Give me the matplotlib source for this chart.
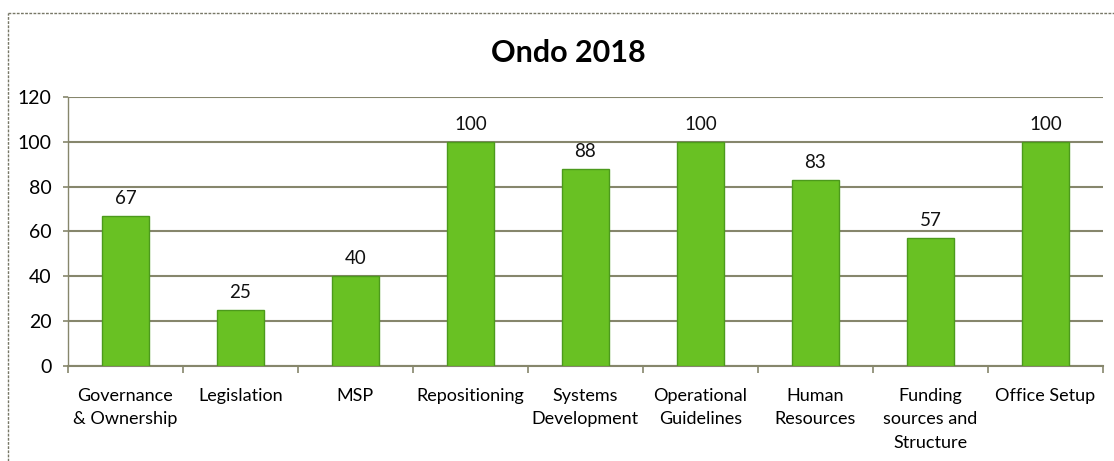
import numpy as np
import matplotlib.pyplot as plt
from matplotlib.lines import Line2D

plt.rcParams["font.family"] = ["Lato", "DejaVu Sans"]

# Scores per area
categories = ["Governance\n& Ownership", "Legislation", "MSP", "Repositioning",
              "Systems\nDevelopment", "Operational\nGuidelines", "Human\nResources",
              "Funding\nsources and\nStructure", "Office Setup"]
scores = [67, 25, 40, 100, 88, 100, 83, 57, 100]
yticks = [0, 20, 40, 60, 80, 100, 120]

grid_col = "#86866c"
bar_col = "#69c123"
edge_col = "#4c9a1c"

fig = plt.figure(figsize=(11.14, 4.61), dpi=100)
ax = fig.add_axes([0.061, 0.206, 0.929, 0.584])

x = np.arange(len(categories))
bars = ax.bar(x, scores, width=0.41, color=bar_col, edgecolor=edge_col, linewidth=1.0, zorder=3)
for xi, v in zip(x, scores):
    ax.text(xi, v + 4, str(v), ha="center", va="bottom", fontsize=13.5, color="#111111")

ax.set_xlim(-0.5, len(categories) - 0.5)
ax.set_ylim(0, 120)
ax.set_yticks(yticks)
ax.tick_params(axis="y", labelsize=14, length=3.6, color=grid_col, width=1.2, pad=8)
ax.yaxis.grid(True, color=grid_col, linewidth=1.5, zorder=0)

# labels under each bar, ticks between categories
ax.set_xticks(x)
ax.set_xticklabels(categories, fontsize=13, linespacing=1.55)
ax.tick_params(axis="x", length=0, pad=16)
ax.set_xticks(np.arange(len(categories) + 1) - 0.5, minor=True)
ax.tick_params(axis="x", which="minor", length=5, color=grid_col, width=1.2)

for side in ["top", "right"]:
    ax.spines[side].set_visible(False)
ax.spines["left"].set_color(grid_col)
ax.spines["left"].set_linewidth(1.0)
ax.spines["bottom"].set_color(grid_col)
ax.spines["bottom"].set_linewidth(1.5)

fig.text(0.51, 0.885, "Ondo 2018", ha="center", va="center", fontsize=22, fontweight="bold")

# chart frame
fig.add_artist(Line2D([0.007, 0.007], [0.0, 0.972], color="#777766", linewidth=1.0, linestyle=(0, (2, 1))))
fig.add_artist(Line2D([0.007, 1.0], [0.972, 0.972], color="#777766", linewidth=1.0, linestyle=(0, (2, 1))))

fig.savefig("out.png", dpi=100)
